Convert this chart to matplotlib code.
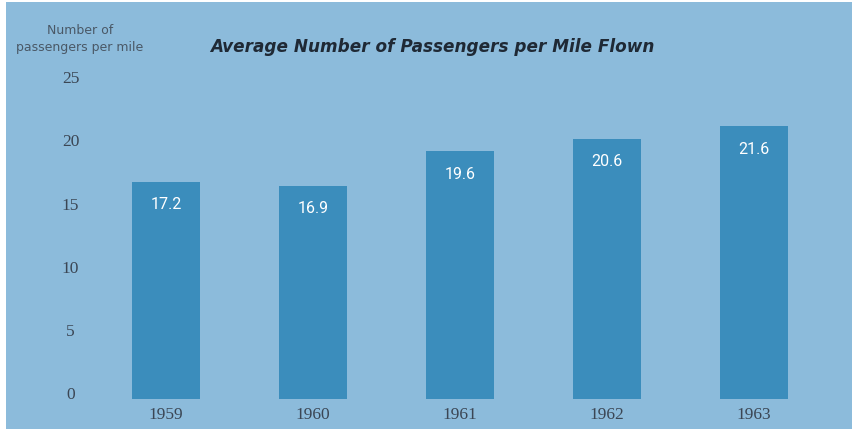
import matplotlib
matplotlib.use("Agg")
import matplotlib.pyplot as plt
from matplotlib.patches import Rectangle
from matplotlib.transforms import ScaledTranslation

years = ["1959", "1960", "1961", "1962", "1963"]
passengers = [17.2, 16.9, 19.6, 20.6, 21.6]
yticks = [0, 5, 10, 15, 20, 25]

W, H = 852, 435
fig = plt.figure(figsize=(W / 100, H / 100), dpi=100)
fig.patch.set_facecolor("white")

panel_color = "#8cbbdb"
bar_color = "#3b8dbc"
text_color = "#3b4654"

# background panel
fig.patches.append(Rectangle((6 / W, 1 - 430 / H), (W - 6) / W, (430 - 3) / H,
                             transform=fig.transFigure, facecolor=panel_color,
                             edgecolor="none", zorder=-5))

# axes: left px 90, right px 830, bottom px 400, top px 60
left, right, bottom, top = 90, 830, 400, 60
ax = fig.add_axes([left / W, 1 - bottom / H, (right - left) / W, (bottom - top) / H])
ax.set_zorder(5)
ax.set_facecolor("none")
x = list(range(len(years)))
ax.bar(x, passengers, width=0.465, color=bar_color, zorder=2)

px_per_unit = 12.63
ax.set_ylim(0, (bottom - top) / px_per_unit)
ax.set_xlim((left - 166) / 147.0, (right - 166) / 147.0)

for s in ax.spines.values():
    s.set_visible(False)

ax.set_xticks(x)
ax.set_xticklabels(years, fontfamily="Liberation Serif", fontsize=12.5, color=text_color)
ax.tick_params(axis="x", length=0, pad=5)

ax.set_yticks(yticks)
ax.set_yticklabels([str(t) for t in yticks], fontfamily="Liberation Serif",
                   fontsize=12.5, color=text_color)
ax.tick_params(axis="y", length=0, pad=14)
for lab in ax.get_yticklabels():
    lab.set_horizontalalignment("center")
    lab.set_transform(lab.get_transform() + ScaledTranslation(0, 7 / 100, fig.dpi_scale_trans))

for xi, v in zip(x, passengers):
    ax.annotate(f"{v}", (xi, v), xytext=(0, -22 * 0.72), textcoords="offset points",
                ha="center", va="center", color="white", fontsize=11.5,
                fontfamily="Roboto", zorder=3)

fig.text(80 / W, 1 - 30 / H, "Number of", ha="center", va="center",
         fontsize=9, fontfamily=["Liberation Sans Narrow", "DejaVu Sans"], color="#4a5866")
fig.text(80 / W, 1 - 48 / H, "passengers per mile", ha="center", va="center",
         fontsize=9, fontfamily=["Liberation Sans Narrow", "DejaVu Sans"], color="#4a5866")

fig.text(432 / W, 1 - 47 / H, "Average Number of Passengers per Mile Flown",
         ha="center", va="center", fontsize=12.2, fontweight="bold", fontstyle="italic",
         fontfamily="DejaVu Sans", color="#1f2935")

fig.savefig("out.png", dpi=100, facecolor=fig.get_facecolor())
